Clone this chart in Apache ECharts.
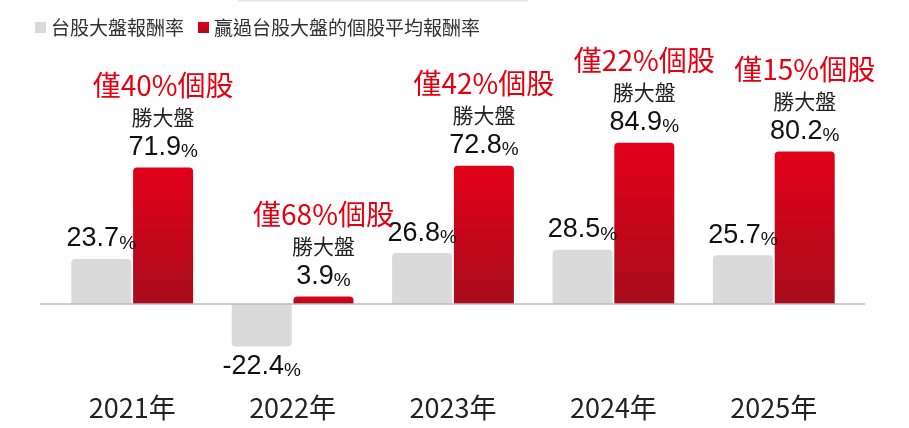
<!DOCTYPE html>
<html>
<head>
<meta charset="utf-8">
<script src="https://cdn.jsdelivr.net/npm/echarts@6/dist/echarts.min.js"></script>
<style>
  html, body { margin: 0; padding: 0; background: #fff; }
  #container { width: 909px; height: 428px; }
</style>
</head>
<body>
<div id="container"></div>
<script>
var years = ['2021年', '2022年', '2023年', '2024年', '2025年'];
var marketReturn = [23.7, -22.4, 26.8, 28.5, 25.7];
var winnerReturn = [71.9, 3.9, 72.8, 84.9, 80.2];
var winnerShare = [40, 68, 42, 22, 15];

var numFont = '"Liberation Sans", Arial, sans-serif';
var cjkFont = '"Noto Sans CJK TC", "Noto Sans CJK SC", sans-serif';

var myChart = echarts.init(document.getElementById('container'));

var grayData = [];
var redData = [];
var i;
for (i = 0; i < years.length; i++) {
  var g = { value: marketReturn[i] };
  if (marketReturn[i] < 0) {
    g.label = { position: 'bottom' };
    g.itemStyle = { borderRadius: [0, 0, 4, 4] };
  }
  grayData.push(g);
  redData.push({ value: winnerReturn[i], share: winnerShare[i] });
}

var valueRich = {
  v: { fontFamily: numFont, fontSize: 27, color: '#111', lineHeight: 28 },
  p: { fontFamily: numFont, fontSize: 19, color: '#111', lineHeight: 28, verticalAlign: 'bottom' }
};

var option = {
  animation: false,
  legend: {
    left: 30,
    top: 13,
    icon: 'rect',
    itemWidth: 11,
    itemHeight: 11,
    itemGap: 14,
    textStyle: { fontFamily: cjkFont, fontSize: 19, color: '#333' },
    data: ['台股大盤報酬率', '贏過台股大盤的個股平均報酬率']
  },
  grid: { left: 52, right: 55, top: 114, bottom: 48 },
  xAxis: {
    type: 'category',
    data: years,
    axisLine: { show: false, onZero: false },
    axisTick: { show: false },
    axisLabel: { margin: 14, fontFamily: cjkFont, fontSize: 27, color: '#222' }
  },
  yAxis: {
    type: 'value',
    min: -40,
    max: 100,
    show: false
  },
  series: [{
    name: '台股大盤報酬率',
    type: 'bar',
    barWidth: 60,
    barGap: '3%',
    itemStyle: { color: '#dadada', borderRadius: [4, 4, 0, 0] },
    label: {
      show: true,
      position: 'top',
      distance: 6,
      formatter: function (p) { return '{v|' + p.value + '}{p|%}'; },
      rich: valueRich
    },
    data: grayData
  }, {
    name: '贏過台股大盤的個股平均報酬率',
    type: 'bar',
    barWidth: 60,
    itemStyle: {
      borderRadius: [4, 4, 0, 0],
      color: new echarts.graphic.LinearGradient(0, 0, 0, 1, [
        { offset: 0, color: '#e3001a' },
        { offset: 1, color: '#a80d1b' }
      ])
    },
    label: {
      show: true,
      position: 'top',
      distance: 6,
      formatter: function (p) {
        return '{h|僅' + p.data.share + '%個股}\n{s|勝大盤}\n{v|' + p.value + '}{p|%}';
      },
      rich: {
        h: { fontFamily: cjkFont, fontSize: 28, color: '#e60012', lineHeight: 30 },
        s: { fontFamily: cjkFont, fontSize: 21, color: '#222', lineHeight: 33 },
        v: valueRich.v,
        p: valueRich.p
      }
    },
    data: redData
  }]
};

myChart.setOption(option);

var zeroY = myChart.convertToPixel({ yAxisIndex: 0 }, 0);
myChart.setOption({
  graphic: [{
    type: 'line',
    shape: { x1: 40, y1: zeroY, x2: 865, y2: zeroY },
    style: { stroke: '#bdbdbd', lineWidth: 1.5 },
    z: 10
  }, {
    type: 'line',
    shape: { x1: 238, y1: 0.5, x2: 528, y2: 0.5 },
    style: { stroke: '#e6e6e6', lineWidth: 2 }
  }]
});
</script>
</body>
</html>
